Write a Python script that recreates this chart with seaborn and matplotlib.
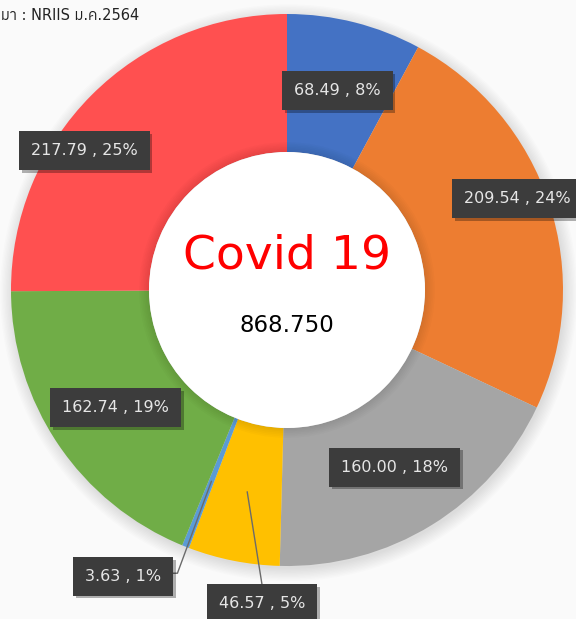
import matplotlib
matplotlib.use("Agg")
import matplotlib.pyplot as plt
import matplotlib.patheffects as pe
from matplotlib import font_manager
from matplotlib.patches import Circle
import numpy as np
import seaborn as sns

# data
values = [68.49, 209.54, 160.00, 46.57, 3.63, 162.74, 217.79]
pct_labels = ["8%", "24%", "18%", "5%", "1%", "19%", "25%"]
center_title = "Covid 19"
center_total = "868.750"
source_text = "มา : NRIIS ม.ค.2564"

colors = ["#4472C4", "#ED7D31", "#A5A5A5", "#FFC000", "#5B9BD5", "#70AD47", "#FF5050"]

sns.set_theme(style="white")
thai_fonts = sorted({f.name for f in font_manager.fontManager.ttflist if "Thai" in f.name})
plt.rcParams["font.family"] = ["DejaVu Sans"] + thai_fonts

W, H = 576, 619
CX, CY, R = 287, 290, 276  # pie centre and radius in pixels

fig = plt.figure(figsize=(W / 100, H / 100), dpi=100, facecolor="#fafafa")
ax = fig.add_axes([0, 0, 1, 1])
ax.set_facecolor("#fafafa")

def px(x, y):
    return (x - CX) / R, (CY - y) / R

wedges, _ = ax.pie(values, colors=colors, startangle=90, counterclock=False,
                   radius=1.0, wedgeprops=dict(width=0.5, linewidth=0))
for w in wedges:
    w.set_zorder(1)

ax.set_xlim(-CX / R, (W - CX) / R)
ax.set_ylim((CY - H) / R, CY / R)
ax.set_aspect("equal")
ax.axis("off")

# soft shadow around the ring
for i in range(10):
    ax.add_patch(Circle((0.006, -0.01), 1.0 + 0.005 * i, color="black",
                        alpha=0.01, lw=0, zorder=0))

# hole with faint inner shadow
for i in range(6):
    ax.add_patch(Circle((0, 0), 0.5 + 0.006 * (6 - i), color="black",
                        alpha=0.015, lw=0, zorder=2))
ax.add_patch(Circle((0, 0), 0.5, color="white", lw=0, zorder=3))

ax.text(*px(287, 256), center_title, color="#ff0000", fontsize=34,
        ha="center", va="center", zorder=4)
ax.text(*px(287, 325), center_total, color="black", fontsize=16.5,
        ha="center", va="center", zorder=4)

ax.text(*px(1, 15), source_text, color="#222222", fontsize=10.5,
        ha="left", va="center", zorder=4)

# data labels: anchored at mid-angle of each wedge, some dragged away
total = sum(values)
cum = np.cumsum([0] + values)
mids = (cum[:-1] + cum[1:]) / 2 / total
offsets = [(0, 0), (35, -27), (0, 2), (15, 112), (-88, 95), (-1, 3), (-57, 6)]
r_lab = 0.745

for i, (v, p) in enumerate(zip(values, pct_labels)):
    ang = np.deg2rad(90 - mids[i] * 360)
    ax_x, ax_y = r_lab * np.cos(ang), r_lab * np.sin(ang)
    dx, dy = offsets[i]
    lx, ly = ax_x + dx / R, ax_y - dy / R
    txt = f"{v:.2f} , {p}"
    if i == 3:
        ax.plot([ax_x, lx], [ax_y, ly + 18 / R], color="#6b6b6b", lw=1, zorder=4)
    if i == 4:
        ax.plot([ax_x, lx + 54 / R, lx + 49 / R], [ax_y, ly + 3 / R, ly + 3 / R],
                color="#6b6b6b", lw=1, zorder=4)
    t = ax.text(lx, ly, txt, fontsize=11.5, color="#e6e6e6", ha="center", va="center",
                zorder=6,
                bbox=dict(boxstyle="square,pad=0.75", fc="#3c3c3c", ec="none"))
    t.get_bbox_patch().set_path_effects([
        pe.SimplePatchShadow(offset=(2, -2), shadow_rgbFace="black", alpha=0.3),
        pe.Normal()])

fig.savefig("out.png", dpi=100, facecolor=fig.get_facecolor())
